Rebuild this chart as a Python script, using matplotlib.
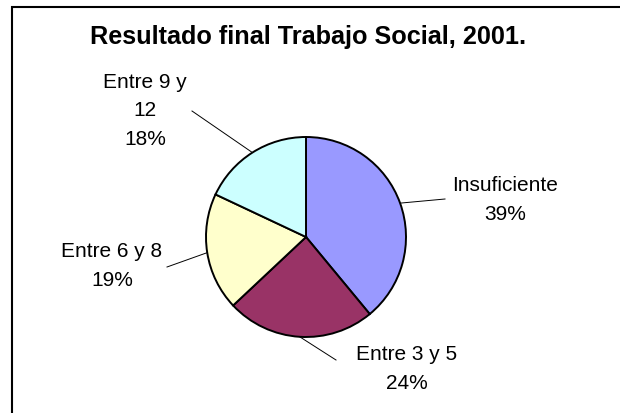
import numpy as np
import matplotlib
matplotlib.use("Agg")
import matplotlib.pyplot as plt
from matplotlib.patches import Rectangle

plt.rcParams['font.family'] = ['Liberation Sans', 'DejaVu Sans']

title = "Resultado final Trabajo Social, 2001."
categories = ["Insuficiente", "Entre 3 y 5", "Entre 6 y 8", "Entre 9 y\n12"]
percent = [39, 24, 19, 18]
colors = ["#9999FF", "#993366", "#FFFFCC", "#CCFFFF"]

W, H = 620, 414
fig = plt.figure(figsize=(W / 100, H / 100), dpi=100)
cx, cy, r = 306, 238, 100
ax = fig.add_axes([0, 0, 1, 1])
ax.axis('off')

wedges, _ = ax.pie(percent, colors=colors, startangle=90, counterclock=False,
                   radius=1.0, center=(0, 0),
                   wedgeprops=dict(edgecolor='black', linewidth=1.4))
ax.set_aspect('equal')
ax.set_xlim(-cx / r, (W - cx) / r)
ax.set_ylim(-(H - cy) / r, cy / r)

# layout: leader end points and label centers (in radius units)
leader_end = [(1.39, 0.38), (0.30, -1.23), (-1.39, -0.30), (-1.14, 1.26)]
label_pos = [(1.99, 0.38), (1.01, -1.31), (-1.94, -0.28), (-1.61, 1.27)]

for w, p, name, le, lp in zip(wedges, percent, categories, leader_end, label_pos):
    ang = np.deg2rad((w.theta1 + w.theta2) / 2)
    x0, y0 = np.cos(ang), np.sin(ang)
    ax.plot([x0, le[0]], [y0, le[1]], color='black', lw=0.7, zorder=0)
    ax.text(lp[0], lp[1], f"{name}\n{p}%", ha='center', va='center',
            fontsize=15, linespacing=1.65, color='black')

fig.text(308 / W, 1 - 37 / H, title, ha='center', va='center',
         fontsize=18.2, fontweight='bold')

fig.patches.append(Rectangle((12 / W, -0.1), 1.2, 1 - 8 / H + 0.1,
                             transform=fig.transFigure, fill=False,
                             edgecolor='black', linewidth=1.5))

fig.savefig("out.png", dpi=100)
